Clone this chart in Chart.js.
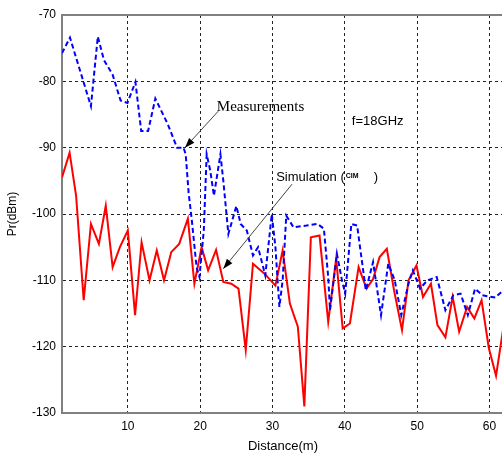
<!DOCTYPE html>
<html>
<head>
<meta charset="utf-8">
<script src="https://cdn.jsdelivr.net/npm/chart.js@4/dist/chart.umd.min.js"></script>
<style>
  html, body { margin: 0; padding: 0; background: #fff; overflow: hidden; }
  #wrap { width: 502px; height: 455px; overflow: hidden; }
</style>
</head>
<body>
<div id="wrap"><canvas id="chart" width="506" height="455"></canvas></div>
<script>
// measured signal (blue dashed)
const measDist = [0.9, 2.0, 4.9, 5.85, 6.7, 7.9, 9.0, 9.95, 11.05, 11.85, 12.8, 13.8, 15.5, 16.8, 17.7, 18.0,
  18.4, 18.85, 19.5, 19.9, 20.5, 20.9, 21.4, 21.9, 22.8, 23.2, 23.9, 25.0, 25.6, 26.45, 27.3, 28.0,
  29.0, 29.9, 30.4, 30.95, 31.4, 31.9, 32.9, 34.7, 36.2, 37.1, 37.7, 37.95, 38.9, 39.6, 40.05, 40.9,
  41.7, 42.9, 43.9, 45.0, 46.0, 46.9, 47.8, 48.8, 49.4, 50.4, 51.4, 52.7, 53.9, 55.0, 56.0, 57.0,
  58.0, 59.0, 60.8, 62.0];
const measPr = [-75.75, -73.4, -83.75, -73.25, -76.8, -79, -82.9, -83.25, -80.1, -87.5, -87.5, -82.6, -86.4, -90, -90, -91,
  -96.75, -101, -108, -109.5, -102.5, -91, -93.5, -97.25, -91, -95, -103, -98.8, -101.5, -102.5, -106.25, -105,
  -109.25, -100, -105, -114, -110, -100.25, -102, -101.75, -101.5, -102.2, -109.5, -114.5, -106, -110, -112, -101.5,
  -101.75, -111.5, -107.25, -115.25, -107.5, -110, -115.25, -110.5, -108.5, -111.25, -110, -109.5, -114.5, -112.25, -112, -115.25,
  -111.25, -112.25, -112.6, -111.4];

// simulation (red solid)
const simDist = [0.9, 1.95, 2.85, 3.9, 4.9, 6.0, 6.95, 7.9, 8.9, 10.0, 11.0, 11.9, 13.0, 14.0, 15.0, 16.0,
  17.1, 18.3, 19.2, 20.2, 21.1, 22.2, 23.2, 24.3, 25.3, 26.3, 27.3, 28.9, 30.4, 31.4, 32.4, 33.5,
  34.4, 35.3, 36.5, 37.7, 38.8, 39.7, 40.7, 41.9, 43.0, 43.9, 44.8, 45.8, 46.8, 47.9, 48.8, 49.9,
  50.8, 51.9, 52.8, 53.9, 54.9, 55.8, 56.9, 57.9, 58.9, 59.9, 60.9, 62.0];
const simPr = [-94.5, -90.75, -97.25, -113, -101.5, -104.5, -98.75, -108, -105, -102.5, -115.25, -104.25, -110, -105.5, -110, -105.75,
  -104.5, -100.7, -110.5, -105, -108.5, -105.4, -110.25, -110.5, -111.25, -120.5, -107.5, -109, -110.8, -105.5, -113.5, -117,
  -129, -103.5, -103.25, -116.25, -106.75, -117.25, -116.5, -108, -111.25, -109.8, -106.5, -105.25, -111.5, -117.5, -110, -107.75,
  -112.5, -110.5, -116.75, -118.6, -112.5, -117.75, -114, -115.75, -113, -120.2, -124.4, -116.5];

const xTicks = [10, 20, 30, 40, 50, 60];

const sans = "Arial, 'Liberation Sans', sans-serif";
const serif = "'Times New Roman', 'Liberation Serif', serif";

function pts(xs, ys)
{
  return xs.map((x, i) => ({x: x, y: ys[i]}));
}

// text + arrows drawn on top, anchored in data units
const notes = {
  id: 'notes',
  afterDatasetsDraw(chart)
  {
    const ctx = chart.ctx;
    const sx = chart.scales.x;
    const sy = chart.scales.y;
    const X = (v) => sx.getPixelForValue(v);
    const Y = (v) => sy.getPixelForValue(v);
    const a = chart.chartArea;

    // top frame line
    ctx.save();
    ctx.strokeStyle = '#808080';
    ctx.lineWidth = 2;
    ctx.beginPath();
    ctx.moveTo(a.left - 1, a.top);
    ctx.lineTo(a.right, a.top);
    ctx.stroke();
    ctx.restore();

    const arrow = (x0, y0, x1, y1) =>
    {
      ctx.save();
      ctx.strokeStyle = '#444';
      ctx.lineWidth = 1;
      ctx.beginPath();
      ctx.moveTo(X(x0), Y(y0));
      ctx.lineTo(X(x1), Y(y1));
      ctx.stroke();
      const ang = Math.atan2(Y(y1) - Y(y0), X(x1) - X(x0));
      const L = 10, W = 3.5;
      const hx = X(x1), hy = Y(y1);
      ctx.fillStyle = '#000';
      ctx.beginPath();
      ctx.moveTo(hx, hy);
      ctx.lineTo(hx - L * Math.cos(ang) + W * Math.sin(ang), hy - L * Math.sin(ang) - W * Math.cos(ang));
      ctx.lineTo(hx - L * Math.cos(ang) - W * Math.sin(ang), hy - L * Math.sin(ang) + W * Math.cos(ang));
      ctx.closePath();
      ctx.fill();
      ctx.restore();
    };
    arrow(22.5, -84.5, 17.9, -90.0);
    arrow(32.7, -95.5, 23.2, -108.25);

    ctx.save();
    ctx.fillStyle = '#000';
    ctx.textBaseline = 'middle';
    ctx.textAlign = 'left';
    ctx.font = '15px ' + serif;
    ctx.fillText('Measurements', X(22.3), Y(-83.95));
    ctx.font = '13px ' + sans;
    ctx.fillText('f=18GHz', X(40.97), Y(-86.0));
    const sxp = X(30.5);
    ctx.fillText('Simulation (', sxp, Y(-94.45));
    const w = ctx.measureText('Simulation (').width;
    ctx.fillText(')', X(44.0), Y(-94.45));
    ctx.font = 'bold 7px ' + sans;
    ctx.fillText('CIM', sxp + w + 1, Y(-94.3));
    ctx.restore();
  }
};

new Chart(document.getElementById('chart'),
{
  type: 'line',
  data: {
    datasets: [
      {
        label: 'Measurements',
        data: pts(measDist, measPr),
        borderColor: '#0000ff',
        borderWidth: 2,
        borderDash: [5, 3],
        pointRadius: 0,
        tension: 0,
        fill: false
      },
      {
        label: 'Simulation (CIM)',
        data: pts(simDist, simPr),
        borderColor: '#ff0000',
        borderWidth: 2,
        pointRadius: 0,
        tension: 0,
        fill: false
      }
    ]
  },
  options: {
    responsive: false,
    devicePixelRatio: 1,
    animation: false,
    layout: {padding: {top: 15, right: 2, left: 0, bottom: 0}},
    plugins: {legend: {display: false}, title: {display: false}, tooltip: {enabled: false}},
    scales: {
      x: {
        type: 'linear',
        min: 0.9,
        max: 62,
        afterBuildTicks: (s) => { s.ticks = xTicks.map((v) => ({value: v})); },
        afterFit: (s) => { s.height = 42; },
        grid: {color: '#222', lineWidth: 1, drawTicks: false},
        border: {color: '#808080', width: 2, dash: [3, 3]},
        ticks: {color: '#000', padding: 6, font: {family: sans, size: 12}, maxRotation: 0},
        title: {display: true, text: 'Distance(m)', color: '#000', font: {family: sans, size: 13}, padding: {top: 0, bottom: 0.5}}
      },
      y: {
        min: -130,
        max: -70,
        afterFit: (s) => { s.width = 62; },
        grid: {color: '#222', lineWidth: 1, drawTicks: false},
        border: {color: '#808080', width: 2, dash: [3, 3]},
        ticks: {color: '#000', padding: 6, stepSize: 10, font: {family: sans, size: 12}},
        title: {display: true, text: 'Pr(dBm)', color: '#000', font: {family: sans, size: 12}, padding: {top: 5.3, bottom: 0}}
      }
    }
  },
  plugins: [notes]
});
</script>
</body>
</html>
